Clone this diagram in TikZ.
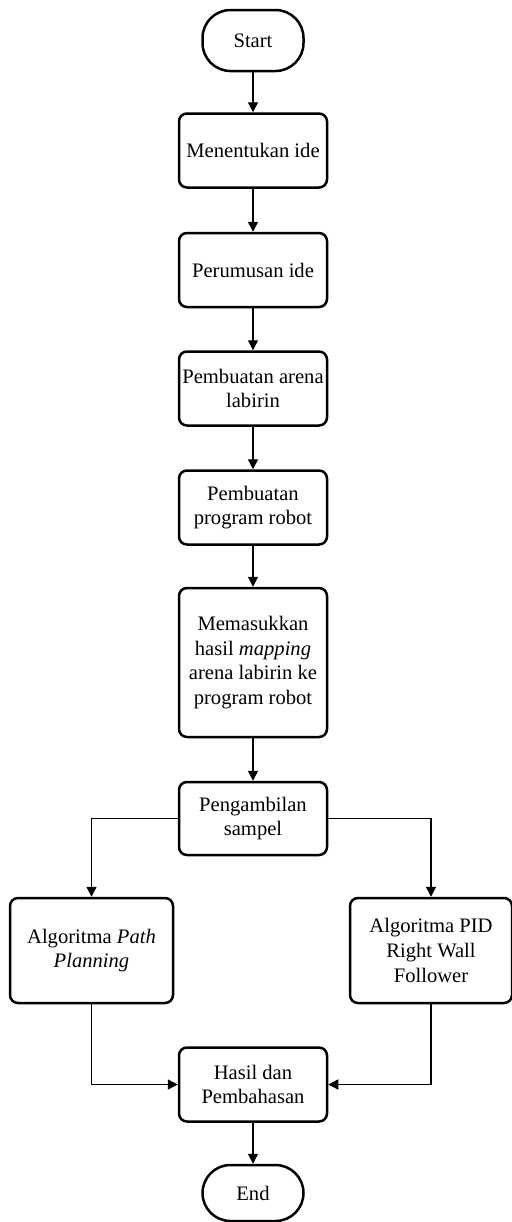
\documentclass[tikz,border=0pt]{standalone}
\usepackage{fontspec}
\setmainfont{Liberation Serif}
\usetikzlibrary{arrows.meta}

\begin{document}
\begin{tikzpicture}[x=0.5pt, y=-0.5pt,
   box/.style={draw, line width=1.25pt, rounded corners=4pt, align=center,
      inner sep=0pt, minimum width=74pt, minimum height=37pt,
      font=\fontsize{10.3}{12.3}\selectfont},
   terminal/.style={box, rounded corners=14pt, minimum width=50.5pt, minimum height=30pt},
   arr/.style={line width=0.7pt, -{Triangle[length=5pt, width=5pt]}}]

   \useasboundingbox (0,0) rectangle (512,1222);

   \node[terminal, minimum height=30.5pt] (start) at (253,40.5) {Start};
   \node[box] (ide) at (253,150.5) {Menentukan ide};
   \node[box] (rumus) at (253,270) {Perumusan ide};
   \node[box] (arena) at (253,388.5) {Pembuatan arena\\labirin};
   \node[box] (program) at (253,507.5) {Pembuatan\\program robot};
   \node[box, minimum height=74.5pt] (mapping) at (253,662.5)
      {Memasukkan\\hasil \textit{mapping}\\arena labirin ke\\program robot};
   \node[box, minimum height=36.5pt] (sampel) at (253,818.5) {Pengambilan\\sampel};

   \node[box, minimum width=81.5pt, minimum height=52.5pt] (path) at (91.5,950.5)
      {Algoritma \textit{Path}\\\textit{Planning}};
   \node[box, minimum width=81pt, minimum height=52.5pt] (pid) at (431,950.5)
      {Algoritma PID\\Right Wall\\Follower};

   \node[box] (hasil) at (253,1084.5) {Hasil dan\\Pembahasan};
   \node[terminal, minimum height=28pt] (end) at (253,1193) {End};

   \draw[arr] (start) -- (ide);
   \draw[arr] (ide) -- (rumus);
   \draw[arr] (rumus) -- (arena);
   \draw[arr] (arena) -- (program);
   \draw[arr] (program) -- (mapping);
   \draw[arr] (mapping) -- (sampel);

   \draw[arr] (sampel.west) -| (path.north);
   \draw[arr] (sampel.east) -| (pid.north);

   \draw[arr] (path.south) |- (hasil.west);
   \draw[arr] (pid.south) |- (hasil.east);

   \draw[arr] (hasil) -- (end);

\end{tikzpicture}
\end{document}
